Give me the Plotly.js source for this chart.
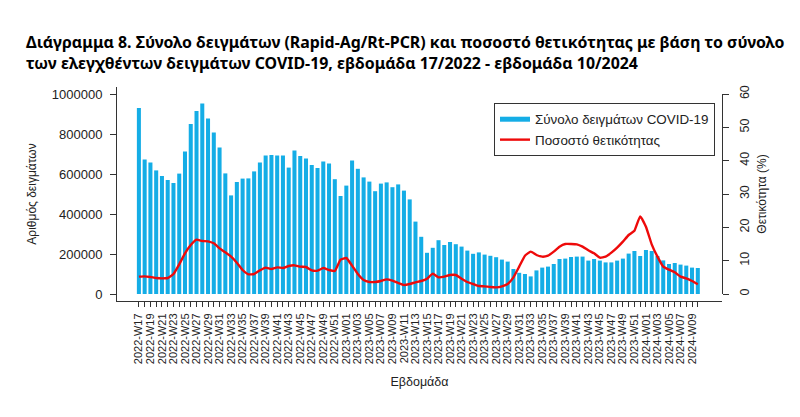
<!DOCTYPE html>
<html>
<head>
<meta charset="utf-8">
<script src="https://cdn.plot.ly/plotly-3.0.1.min.js"></script>
<style>html,body{margin:0;padding:0;background:#fff;}#chart{width:800px;height:417px;}</style>
</head>
<body>
<div id="chart"></div>
<script>
// Weeks 2022-W17 .. 2024-W10
const weeks = [
  "2022-W17","2022-W18","2022-W19","2022-W20","2022-W21","2022-W22","2022-W23","2022-W24","2022-W25","2022-W26",
  "2022-W27","2022-W28","2022-W29","2022-W30","2022-W31","2022-W32","2022-W33","2022-W34","2022-W35","2022-W36",
  "2022-W37","2022-W38","2022-W39","2022-W40","2022-W41","2022-W42","2022-W43","2022-W44","2022-W45","2022-W46",
  "2022-W47","2022-W48","2022-W49","2022-W50","2022-W51","2022-W52",
  "2023-W01","2023-W02","2023-W03","2023-W04","2023-W05","2023-W06","2023-W07","2023-W08","2023-W09","2023-W10",
  "2023-W11","2023-W12","2023-W13","2023-W14","2023-W15","2023-W16","2023-W17","2023-W18","2023-W19","2023-W20",
  "2023-W21","2023-W22","2023-W23","2023-W24","2023-W25","2023-W26","2023-W27","2023-W28","2023-W29","2023-W30",
  "2023-W31","2023-W32","2023-W33","2023-W34","2023-W35","2023-W36","2023-W37","2023-W38","2023-W39","2023-W40",
  "2023-W41","2023-W42","2023-W43","2023-W44","2023-W45","2023-W46","2023-W47","2023-W48","2023-W49","2023-W50",
  "2023-W51","2023-W52",
  "2024-W01","2024-W02","2024-W03","2024-W04","2024-W05","2024-W06","2024-W07","2024-W08","2024-W09","2024-W10"
];

// Total samples (Rapid-Ag / Rt-PCR) per week
const totalSamples = [
  930000,673000,657000,618000,590000,570000,555000,602000,712000,850000,
  915000,953000,878000,807000,732000,603000,493000,560000,577000,578000,
  613000,657000,692000,695000,692000,692000,632000,717000,690000,677000,
  645000,630000,662000,653000,574000,490000,
  542000,667000,626000,583000,562000,514000,552000,558000,534000,548000,
  517000,473000,362000,286000,206000,231000,269000,245000,260000,249000,
  237000,217000,201000,208000,197000,191000,184000,172000,162000,125000,
  106000,100000,88000,118000,132000,137000,150000,175000,177000,185000,
  187000,187000,167000,175000,167000,158000,158000,167000,177000,202000,
  215000,190000,
  220000,215000,190000,168000,150000,155000,147000,142000,132000,130000
];

// Positivity rate (%)
const positivity = [
  5.2,5.3,5.1,4.8,4.7,4.8,6.0,8.9,12.2,14.7,
  16.3,15.9,15.8,15.2,13.7,12.5,11.2,9.4,7.2,5.9,
  6.0,7.1,7.9,7.5,8.0,7.8,8.4,8.6,8.2,8.1,
  7.1,7.0,7.8,7.2,6.9,10.3,
  10.8,8.5,6.0,4.2,3.6,3.6,3.9,4.4,4.0,3.3,
  2.7,3.0,3.5,3.9,4.6,6.1,5.0,5.2,5.7,5.7,
  4.6,3.6,3.0,2.4,2.3,2.1,2.0,2.3,3.0,5.0,
  8.2,11.5,12.7,11.7,11.2,11.5,12.7,14.2,15.0,15.0,
  14.9,14.2,13.1,12.2,10.9,11.2,12.4,13.9,15.7,17.7,
  19.0,23.3,
  20.2,14.9,11.2,8.2,7.3,6.5,5.2,4.7,3.9,2.9
];

const tickLabels = weeks.map((w, i) => (i % 2 === 0 ? w : ""));

const barColor = "#14ADE6";
const lineColor = "#EE0A0A";
const axisColor = "#333333";
const baseFont = "Liberation Sans, Arial, sans-serif";

const traces = [
  {
    type: "bar",
    x: weeks,
    y: totalSamples,
    marker: { color: barColor, line: { width: 0 } },
    showlegend: false,
    hoverinfo: "x+y"
  },
  {
    type: "scatter",
    mode: "lines",
    x: [null],
    y: [null],
    name: "Σύνολο δειγμάτων COVID-19",
    line: { color: barColor, width: 5 },
    showlegend: true
  },
  {
    type: "scatter",
    mode: "lines",
    x: weeks,
    y: positivity,
    yaxis: "y2",
    name: "Ποσοστό θετικότητας",
    line: { color: lineColor, width: 2.4, shape: "spline", smoothing: 0.4 }
  }
];

const layout = {
  width: 800,
  height: 417,
  paper_bgcolor: "#ffffff",
  plot_bgcolor: "rgba(0,0,0,0)",
  font: { family: baseFont, size: 12, color: "#222" },
  margin: { l: 117, r: 78, t: 87, b: 116, pad: 0 },
  bargap: 0.3,
  title: {
    text: "Διάγραμμα 8. Σύνολο δειγμάτων (Rapid-Ag/Rt-PCR) και ποσοστό θετικότητας με βάση το σύνολο<br>των ελεγχθέντων δειγμάτων COVID-19, εβδομάδα 17/2022 - εβδομάδα 10/2024",
    font: { family: "Noto Sans, Open Sans, sans-serif", size: 15.9, weight: 700, color: "#000" },
    x: 26 / 800,
    xanchor: "left",
    xref: "container",
    y: 1 - 48 / 417,
    yref: "container",
    yanchor: "top",
    align: "left"
  },
  xaxis: {
    type: "category",
    range: [-3.8, 101.2],
    tickmode: "array",
    tickvals: weeks,
    ticktext: tickLabels,
    tickangle: -90,
    ticks: "outside",
    ticklen: 5,
    tickcolor: axisColor,
    tickfont: { family: baseFont, size: 11, color: "#222" },
    ticklabelstandoff: 2,
    showline: true,
    linecolor: axisColor,
    linewidth: 1,
    showgrid: false,
    zeroline: false,
    automargin: false,
    title: { text: "Εβδομάδα", font: { family: baseFont, size: 12.5, color: "#222" }, standoff: 14 }
  },
  yaxis: {
    range: [-35000, 1035000],
    tickmode: "array",
    tickvals: [0, 200000, 400000, 600000, 800000, 1000000],
    tickformat: "d",
    ticks: "outside",
    ticklen: 6,
    tickcolor: axisColor,
    tickfont: { family: baseFont, size: 13, color: "#222" },
    ticklabelstandoff: 5,
    showline: true,
    linecolor: axisColor,
    linewidth: 1,
    showgrid: false,
    zeroline: false,
    automargin: false,
    title: { text: "Αριθμός δειγμάτων", font: { family: baseFont, size: 12, color: "#222" }, standoff: 12 }
  },
  yaxis2: {
    anchor: "x",
    side: "right",
    domain: [7 / 214, 207 / 214],
    range: [0, 60],
    tickmode: "array",
    tickvals: [0, 10, 20, 30, 40, 50, 60],
    tickangle: -90,
    ticks: "outside",
    ticklen: 6,
    tickcolor: axisColor,
    tickfont: { family: baseFont, size: 12.5, color: "#222" },
    ticklabelstandoff: 5,
    showline: true,
    linecolor: axisColor,
    linewidth: 1,
    showgrid: false,
    zeroline: false,
    automargin: false,
    title: { text: "Θετικότητα (%)", font: { family: baseFont, size: 12, color: "#222" }, standoff: 6 }
  },
  legend: {
    x: (494 - 117) / 605,
    y: (301 - 103) / 214,
    xanchor: "left",
    yanchor: "top",
    bgcolor: "#ffffff",
    bordercolor: "#333333",
    borderwidth: 1,
    font: { family: baseFont, size: 13.4, color: "#222" },
    tracegroupgap: 0,
    itemwidth: 30
  },
  showlegend: true
};

Plotly.newPlot("chart", traces, layout, { displayModeBar: false, staticPlot: true });
</script>
</body>
</html>
